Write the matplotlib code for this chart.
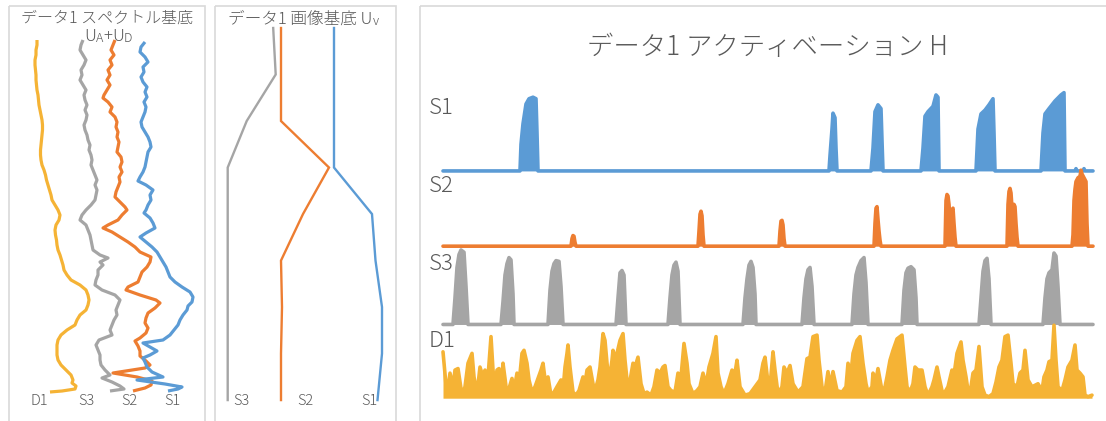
import numpy as np
import matplotlib
matplotlib.use("Agg")
import matplotlib.pyplot as plt
from matplotlib.patches import Rectangle

plt.rcParams['font.family'] = ['Noto Sans CJK JP', 'DejaVu Sans']
plt.rcParams['font.weight'] = 'light'

BLUE = '#5b9bd5'
ORANGE = '#ed7d31'
GRAY = '#a5a5a5'
GOLD = '#f5b335'
TEXT = '#595959'
FRAME = '#d9d9d9'

# ---------------- spectral basis U_A + U_D : (channel, stacked amplitude) ----------------
spec_d1 = [(40, 37), (45, 37), (50, 36), (55, 36), (60, 35), (65, 35), (70, 35.5), (75, 36),
           (80, 36), (85, 36.5), (90, 37), (95, 38), (100, 38.5), (105, 39), (110, 40), (115, 41),
           (120, 42), (125, 42.5), (130, 42.5), (135, 42), (140, 41.5), (145, 41), (150, 40.5),
           (155, 40.5), (160, 41), (165, 42), (170, 44), (175, 45.5), (180, 46.5), (185, 48),
           (190, 49.5), (195, 51), (200, 52), (205, 55), (210, 58), (215, 60), (220, 59), (225, 56),
           (230, 55), (235, 55.5), (240, 56.5), (245, 57), (250, 58), (255, 60), (260, 61.5),
           (265, 63), (270, 64), (275, 67), (280, 71), (285, 80), (290, 86), (295, 88), (300, 89),
           (305, 88), (310, 86), (315, 80), (320, 77), (325, 75), (330, 67), (335, 61), (340, 58),
           (345, 57), (350, 57), (355, 57), (360, 58), (365, 61), (370, 66), (375, 71), (380, 73),
           (383, 72), (386, 76), (389, 75), (391, 62), (392, 50)]
spec_s3 = [(40, 83), (45, 81), (50, 80), (55, 83), (60, 86), (65, 84), (70, 81), (75, 82), (80, 80),
           (85, 83), (90, 86), (95, 84), (100, 85), (105, 87), (110, 85), (115, 87), (120, 86),
           (125, 84), (130, 85), (135, 87), (140, 88), (145, 90), (150, 89), (155, 91), (160, 92),
           (165, 91), (170, 93), (175, 95), (180, 97), (185, 95), (190, 97), (195, 96), (200, 95),
           (205, 91), (210, 86), (215, 82), (220, 80), (225, 86), (230, 88), (235, 90), (240, 91),
           (245, 92), (250, 93), (255, 100), (258, 108), (262, 100), (265, 103), (270, 98),
           (275, 98), (280, 96), (285, 95), (290, 102), (295, 115), (300, 120), (305, 118),
           (310, 116), (315, 117), (320, 114), (325, 112), (330, 110), (335, 112), (340, 99),
           (345, 96), (350, 98), (355, 100), (360, 100), (365, 101), (370, 105), (375, 110),
           (378, 102), (382, 112), (386, 120), (389, 124), (391, 110)]
spec_s2 = [(40, 115), (45, 113), (50, 111), (55, 114), (60, 110), (65, 112), (70, 108), (75, 110),
           (80, 107), (85, 110), (90, 107), (95, 104), (98, 103), (102, 108), (107, 112), (112, 110),
           (117, 115), (122, 117), (127, 116), (132, 118), (137, 117), (142, 119), (147, 118),
           (152, 117), (157, 121), (162, 122), (167, 120), (172, 122), (177, 119), (182, 120),
           (187, 118), (192, 116), (197, 115), (202, 120), (207, 125), (210, 127), (215, 122),
           (220, 118), (225, 108), (228, 103), (232, 112), (237, 120), (242, 128), (247, 135),
           (252, 140), (257, 151), (262, 150), (267, 147), (272, 142), (277, 140), (282, 138),
           (287, 128), (290, 126), (295, 140), (300, 156), (303, 160), (308, 155), (313, 148),
           (318, 146), (323, 145), (328, 148), (333, 146), (338, 140), (341, 135), (346, 138),
           (351, 140), (356, 140), (361, 146), (365, 150), (368, 145), (373, 113), (377, 137),
           (381, 152), (385, 151), (388, 145), (391, 133)]
spec_s1 = [(42, 145), (47, 141), (52, 140), (57, 145), (62, 148), (67, 143), (72, 144), (77, 141),
           (82, 143), (87, 147), (92, 145), (97, 147), (102, 144), (107, 146), (112, 145),
           (117, 143), (122, 141), (127, 142), (132, 145), (137, 148), (142, 150), (147, 151),
           (152, 148), (157, 147), (162, 146), (167, 145), (172, 143), (177, 140), (181, 138),
           (185, 146), (190, 153), (195, 150), (200, 151), (205, 148), (210, 146), (213, 144),
           (218, 150), (223, 153), (228, 155), (233, 146), (237, 140), (242, 146), (247, 152),
           (252, 157), (257, 160), (262, 163), (267, 166), (272, 168), (277, 170), (282, 175),
           (287, 182), (292, 190), (297, 193), (302, 192), (306, 188), (310, 187), (315, 183),
           (320, 180), (325, 178), (330, 174), (335, 170), (340, 163), (343, 143), (347, 150),
           (351, 157), (355, 150), (358, 143), (362, 145), (367, 147), (372, 152), (377, 163),
           (380, 137), (384, 165), (387, 182), (389, 178), (391, 168)]

# ---------------- image basis U_V (9 pixels) ----------------
img_s3 = [0.91, 0.96, 0.38, 0.0, 0.0, 0.0, 0.0, 0.0, 0.0]
img_s2 = [0.0, 0.0, 0.0, 0.96, 0.44, 0.0, 0.02, 0.0, 0.0]
img_s1 = [0.0, 0.0, 0.0, 0.0, 0.76, 0.83, 0.96, 0.96, 0.87]

# ---------------- activations H : (frame, value) ----------------
act_s1 = [(0, 0), (77, 0), (78, 0.35), (80, 0.62), (83, 0.88), (86, 0.95), (90, 0.97), (93, 0.95),
          (94, 0.5), (95, 0),
          (386, 0), (387, 0.2), (389, 0.55), (390, 0.76), (392, 0.7), (393, 0.3), (394, 0),
          (428, 0), (430, 0.3), (432, 0.78), (435, 0.87), (438, 0.82), (439, 0.4), (440, 0),
          (478, 0), (480, 0.3), (482, 0.72), (485, 0.78), (490, 0.85), (493, 1.0), (495, 0.97), (496, 0),
          (533, 0), (535, 0.55), (538, 0.75), (542, 0.8), (546, 0.87), (550, 0.95), (551, 0.5), (552, 0),
          (598, 0), (600, 0.5), (602, 0.75), (606, 0.82), (612, 0.92), (618, 1.0), (621, 1.03), (622, 0),
          (632, 0), (633, 0.03), (634, 0), (640, 0), (641, 0.03), (642, 0), (650, 0)]
act_s2 = [(0, 0), (128, 0), (129, 0.1), (130, 0.14), (131, 0.13), (132, 0.05), (133, 0),
          (255, 0), (256, 0.2), (257, 0.42), (258, 0.46), (259, 0.4), (260, 0.15), (261, 0),
          (336, 0), (337, 0.2), (338, 0.33), (339, 0.34), (340, 0.28), (341, 0.1), (342, 0),
          (431, 0), (432, 0.3), (433, 0.5), (434, 0.52), (435, 0.35), (436, 0.2), (437, 0.08), (438, 0),
          (502, 0), (503, 0.6), (504, 0.68), (505, 0.66), (506, 0.55), (507, 0.35), (508, 0.38),
          (509, 0.48), (510, 0.5), (511, 0.3), (512, 0.12), (513, 0),
          (564, 0), (565, 0.55), (566, 0.72), (567, 0.76), (568, 0.7), (569, 0.5), (570, 0.48),
          (571, 0.55), (572, 0.52), (573, 0.3), (574, 0.12), (575, 0),
          (629, 0), (630, 0.15), (631, 0.6), (632, 0.75), (633, 0.85), (635, 0.9), (637, 0.92),
          (638, 1.0), (639, 0.95), (641, 0.9), (643, 0.85), (644, 0.3), (645, 0), (650, 0)]
act_s3 = [(0, 0), (10, 0), (12, 0.35), (14, 0.75), (16, 0.92), (18, 0.98), (21, 0.95), (23, 0.5), (25, 0),
          (58, 0), (60, 0.3), (62, 0.65), (64, 0.8), (66, 0.88), (68, 0.85), (70, 0.4), (71, 0),
          (105, 0), (107, 0.45), (109, 0.7), (111, 0.8), (113, 0.84), (116, 0.83), (118, 0.5), (120, 0),
          (173, 0), (175, 0.35), (177, 0.68), (179, 0.71), (181, 0.65), (183, 0),
          (225, 0), (227, 0.35), (229, 0.65), (231, 0.78), (233, 0.82), (235, 0.7), (237, 0),
          (300, 0), (302, 0.35), (304, 0.6), (306, 0.78), (308, 0.83), (310, 0.75), (312, 0.4), (313, 0),
          (359, 0), (361, 0.35), (363, 0.6), (365, 0.72), (367, 0.75), (369, 0.5), (371, 0),
          (409, 0), (411, 0.4), (413, 0.65), (415, 0.75), (418, 0.84), (421, 0.88), (423, 0.55), (425, 0),
          (459, 0), (461, 0.45), (463, 0.68), (465, 0.74), (468, 0.76), (471, 0.72), (473, 0.35), (474, 0),
          (536, 0), (538, 0.35), (540, 0.7), (542, 0.84), (544, 0.87), (546, 0.6), (548, 0),
          (600, 0), (602, 0.35), (604, 0.6), (606, 0.68), (609, 0.72), (611, 0.94), (613, 0.9),
          (615, 0.5), (617, 0), (650, 0)]
act_d1 = [(0, 0.61), (4, 0.03), (7, 0.33), (10, 0.15), (12, 0.37), (15, 0.39), (19, 0.04), (22, 0.15),
          (25, 0.46), (29, 0.59), (31, 0.28), (34, 0.06), (37, 0.41), (40, 0.28), (42, 0.37), (44, 0.10),
          (48, 0.81), (50, 0.37), (52, 0.15), (54, 0.37), (56, 0.39), (58, 0.10), (60, 0.46), (62, 0.26),
          (64, 0.04), (69, 0.26), (71, 0.10), (74, 0.33), (76, 0.19), (79, 0.59), (81, 0.63), (84, 0.46),
          (86, 0.24), (89, 0.08), (92, 0.15), (95, 0.26), (98, 0.37), (100, 0.46), (103, 0.15), (105, 0.28),
          (108, 0.04), (111, 0.08), (114, 0.15), (118, 0.24), (120, 0.10), (122, 0.41), (124, 0.59),
          (125, 0.70), (127, 0.41), (130, 0.08), (133, 0.04), (136, 0.10), (140, 0.28), (142, 0.19),
          (144, 0.37), (147, 0.41), (150, 0.19), (152, 0.10), (155, 0.24), (157, 0.41), (160, 0.85),
          (162, 0.76), (164, 0.46), (166, 0.21), (169, 0.50), (170, 0.63), (172, 0.54), (174, 0.59),
          (177, 0.76), (180, 0.85), (182, 0.50), (184, 0.24), (186, 0.15), (190, 0.46), (192, 0.41),
          (195, 0.54), (198, 0.19), (201, 0.06), (204, 0.08), (208, 0.04), (211, 0.15), (214, 0.37),
          (217, 0.33), (220, 0.41), (222, 0.43), (225, 0.15), (228, 0.10), (232, 0.08), (235, 0.33),
          (238, 0.28), (241, 0.72), (244, 0.46), (246, 0.19), (250, 0.06), (254, 0.10), (257, 0.15),
          (260, 0.33), (263, 0.17), (266, 0.41), (270, 0.59), (273, 0.81), (275, 0.33), (278, 0.15),
          (281, 0.06), (285, 0.19), (289, 0.37), (292, 0.33), (294, 0.50), (297, 0.15), (302, 0.04),
          (307, 0.06), (312, 0.15), (317, 0.24), (320, 0.46), (322, 0.54), (325, 0.20), (327, 0.15),
          (330, 0.61), (332, 0.37), (335, 0.06), (339, 0.15), (341, 0.41), (344, 0.33), (347, 0.43),
          (350, 0.19), (355, 0.08), (360, 0.15), (364, 0.52), (367, 0.54), (370, 0.81), (374, 0.83),
          (376, 0.50), (379, 0.15), (382, 0.08), (385, 0.35), (387, 0.15), (390, 0.35), (394, 0.10),
          (399, 0.08), (403, 0.15), (405, 0.46), (408, 0.33), (410, 0.59), (414, 0.76), (417, 0.81),
          (420, 0.46), (423, 0.19), (425, 0.08), (429, 0.15), (430, 0.33), (433, 0.24), (435, 0.39),
          (439, 0.10), (442, 0.15), (444, 0.28), (447, 0.50), (450, 0.63), (454, 0.78), (459, 0.83),
          (462, 0.41), (464, 0.15), (467, 0.08), (470, 0.19), (472, 0.41), (475, 0.37), (479, 0.37),
          (482, 0.15), (485, 0.04), (489, 0.15), (491, 0.24), (494, 0.41), (496, 0.28), (499, 0.10),
          (501, 0.06), (505, 0.15), (509, 0.37), (511, 0.31), (514, 0.59), (518, 0.74), (520, 0.50),
          (523, 0.28), (525, 0.10), (528, 0.15), (530, 0.33), (533, 0.37), (536, 0.68), (539, 0.15),
          (542, 0.04), (546, 0.02), (550, 0.06), (553, 0.21), (556, 0.41), (559, 0.50), (562, 0.81),
          (565, 0.83), (568, 0.46), (570, 0.19), (574, 0.15), (577, 0.33), (580, 0.37), (582, 0.63),
          (585, 0.24), (589, 0.15), (592, 0.17), (595, 0.19), (599, 0.10), (601, 0.28), (604, 0.37),
          (606, 0.48), (609, 0.50), (611, 0.96), (613, 0.50), (615, 0.15), (619, 0.10), (622, 0.24),
          (625, 0.41), (629, 0.50), (632, 0.70), (634, 0.37), (637, 0.33), (640, 0.28), (642, 0.04),
          (645, 0.02), (649, 0.04)]

series_names = ['S1', 'S2', 'S3', 'D1']

# ---------------- figure ----------------
W, H = 1106, 421
fig = plt.figure(figsize=(W / 100, H / 100), dpi=100)


def px_axes(x0, y0, x1, y1, z=1):
    ax = fig.add_axes([x0 / W, 1 - y1 / H, (x1 - x0) / W, (y1 - y0) / H], zorder=z)
    ax.set_axis_off()
    ax.patch.set_alpha(0)
    return ax


bg = px_axes(0, 0, W, H, z=0)
bg.set_xlim(0, W)
bg.set_ylim(H, 0)
for x0, x1 in [(9, 205), (215, 396), (420, 1110)]:
    bg.add_patch(Rectangle((x0, 6), x1 - x0, 440, fill=False, ec=FRAME, lw=1.2))

# ----- panel 1: spectral basis -----
ax1 = px_axes(9, 6, 205, 421)
ax1.set_xlim(9, 205)
ax1.set_ylim(421, 6)
for data, col in [(spec_d1, GOLD), (spec_s3, GRAY), (spec_s2, ORANGE), (spec_s1, BLUE)]:
    ch, amp = np.array(data).T
    ax1.plot(amp, ch, color=col, lw=2.3, solid_joinstyle='round', solid_capstyle='butt')

bg.text(107, 18, 'データ1 スペクトル基底', ha='center', va='center', fontsize=11.5, color=TEXT)
t = bg.text(84, 41, 'U', ha='left', va='baseline', fontsize=12, color=TEXT)
for s, fs in [('A', 9), ('+', 12), ('U', 12), ('D', 9)]:
    t = bg.annotate(s, xy=(1, 0), xycoords=t, ha='left', va='bottom', fontsize=fs, color=TEXT)
for name, x in [('D1', 39), ('S3', 86), ('S2', 129), ('S1', 172)]:
    bg.text(x, 401, name, ha='center', va='center', fontsize=10.5, color=TEXT)

# ----- panel 2: image basis -----
ax2 = px_axes(215, 6, 396, 421)
ax2.set_xlim(-0.254, 3.366)
ax2.set_ylim(8.45, -0.473)
rows = np.arange(len(img_s1))
for vals, off, col in [(img_s3, 0.0, GRAY), (img_s2, 1.066, ORANGE), (img_s1, 2.126, BLUE)]:
    ax2.plot(off + np.array(vals), rows, color=col, lw=1.7, solid_joinstyle='miter')

t = bg.text(228, 24, 'データ1 画像基底 U', ha='left', va='baseline', fontsize=12, color=TEXT)
bg.annotate('v', xy=(1, 0), xycoords=t, ha='left', va='bottom', fontsize=9, color=TEXT)
for name, x in [('S3', 241), ('S2', 305), ('S1', 369)]:
    bg.text(x, 401, name, ha='center', va='center', fontsize=10.5, color=TEXT)

# ----- panel 3: activations -----
ax3 = px_axes(420, 6, 1106, 421)
ax3.set_xlim(-23, 663)
ax3.set_ylim(-0.30, 5.16)
tracks = [(act_s1, 2.99, BLUE), (act_s2, 2.0, ORANGE), (act_s3, 0.97, GRAY), (act_d1, 0.0, GOLD)]
for data, off, col in tracks:
    fr, val = np.array(data).T
    ax3.fill_between(fr, off, off + val, color=col, lw=0)
    ax3.plot(fr, off + val, color=col, lw=2.6, solid_joinstyle='round', solid_capstyle='round')

bg.text(767, 47, 'データ1 アクティベーション H', ha='center', va='center', fontsize=19, color=TEXT)
for name, y in zip(series_names, [108, 186, 264, 341]):
    bg.text(429, y, name, ha='left', va='center', fontsize=16, color=TEXT)

fig.savefig('out.png', dpi=100)
